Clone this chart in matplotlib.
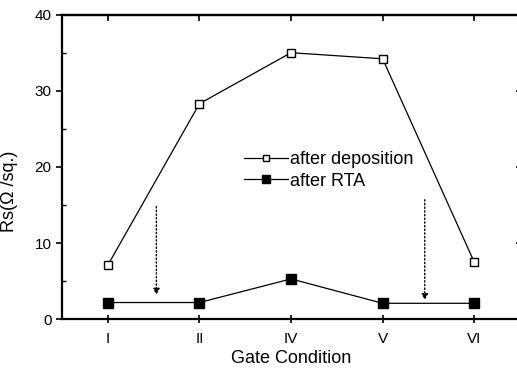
import numpy as np
import matplotlib
matplotlib.use('Agg')
import matplotlib.pyplot as plt

plt.rcParams['font.family'] = ['Liberation Sans Narrow', 'Liberation Sans', 'DejaVu Sans']

# data
conditions = ['I', 'II', 'IV', 'V', 'VI']
after_deposition = [7.1, 28.3, 35.0, 34.2, 7.5]
after_rta = [2.2, 2.2, 5.3, 2.1, 2.1]
# dotted arrows (x position, start, end)
arrow_x = [1.53, 4.46]
arrow_top = [14.8, 15.7]
arrow_tip = [3.2, 2.5]

x = np.arange(1, len(conditions) + 1)

fig = plt.figure(figsize=(5.17, 3.72), dpi=100)
ax = fig.add_axes([0.1199, 0.1417, 0.886, 0.819])

ax.plot(x, after_deposition, color='black', lw=0.9, marker='s', ms=6,
        mfc='white', mec='black', mew=1.0, label='after deposition')
ax.plot(x, after_rta, color='black', lw=0.9, marker='s', ms=7,
        mfc='black', mec='black', label='after RTA')

for xa, y0, y1 in zip(arrow_x, arrow_top, arrow_tip):
    ax.annotate('', xy=(xa, y1), xytext=(xa, y0),
                arrowprops=dict(arrowstyle='-|>', ls=':', lw=1.0, color='black',
                                mutation_scale=9, shrinkA=0, shrinkB=0))

ax.set_xlim(0.5, 5.5)
ax.set_ylim(0, 40)
ax.set_xticks(x)
ax.set_xticklabels(conditions, fontsize=11)
ax.set_yticks([0, 10, 20, 30, 40])
ax.set_yticks([5, 15, 25, 35], minor=True)
ax.tick_params(axis='y', labelsize=11, direction='out', length=4, width=1.2)
ax.tick_params(axis='y', which='minor', direction='in', length=3, width=1.0)
ax.tick_params(axis='x', direction='inout', length=6, width=1.2, pad=6)

top = ax.secondary_xaxis('top')
top.set_xticks(x)
top.set_xticklabels([])
top.tick_params(direction='in', length=4, width=1.2)
right = ax.secondary_yaxis('right')
right.set_yticks([10, 20, 30])
right.set_yticklabels([])
right.tick_params(direction='in', length=3, width=1.2)

for s in ['left', 'bottom', 'top', 'right']:
    ax.spines[s].set_linewidth(1.6)
top.spines['top'].set_linewidth(1.6)
right.spines['right'].set_linewidth(1.6)

ax.set_xlabel('Gate Condition', fontsize=13, labelpad=3)
ax.set_ylabel('Rs(\u03a9 /sq.)', fontsize=13)
ax.yaxis.set_label_coords(-0.095, 0.42)

ax.legend(loc='upper left', bbox_to_anchor=(0.398, 0.552), frameon=False,
          fontsize=13, handlelength=2.4, handletextpad=0.15, labelspacing=0.25,
          markerscale=0.75, borderaxespad=0, borderpad=0)

plt.savefig('out.png', dpi=100)
